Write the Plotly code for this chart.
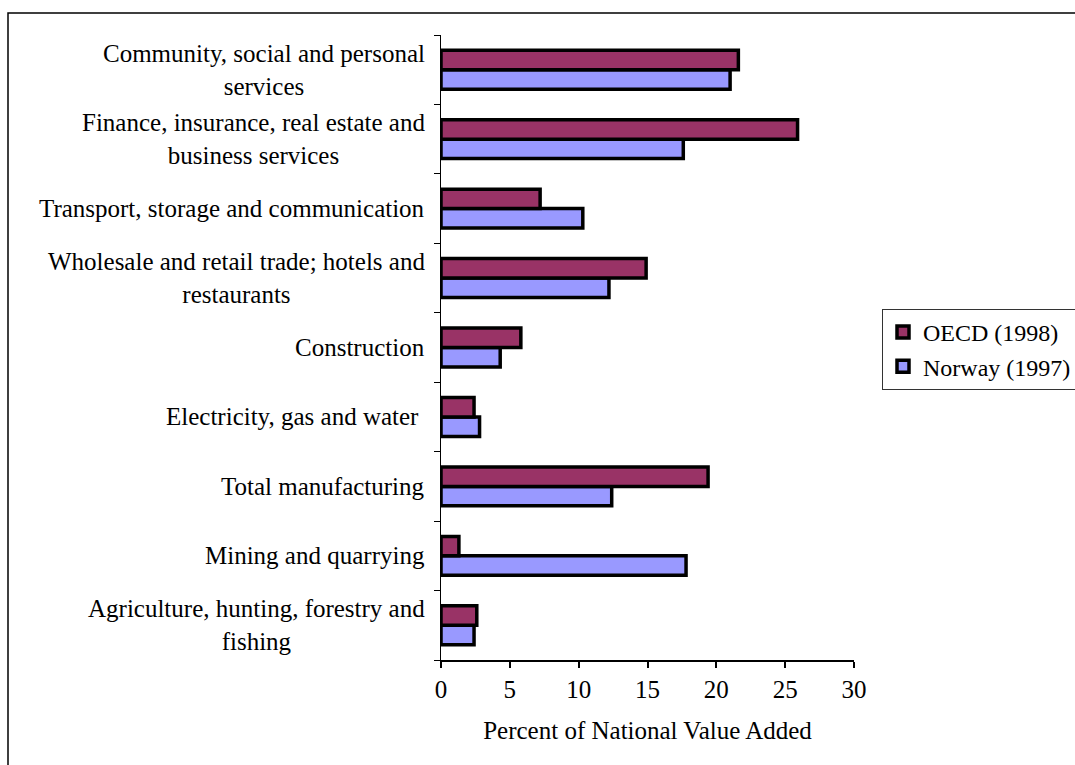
import plotly.graph_objects as go

# Industry groups, listed bottom to top as they appear on the axis
categories = [
    "Agriculture, hunting, forestry and<br>fishing",
    "Mining and quarrying",
    "Total manufacturing",
    "Electricity, gas and water\u00a0",
    "Construction",
    "Wholesale and retail trade; hotels and<br>restaurants",
    "Transport, storage and communication",
    "Finance, insurance, real estate and<br>business services",
    "Community, social and personal<br>services",
]
cat_keys = [f"c{i}" for i in range(len(categories))]

oecd_1998 = [2.6, 1.3, 19.4, 2.4, 5.8, 14.9, 7.2, 25.9, 21.6]
norway_1997 = [2.4, 17.8, 12.4, 2.8, 4.3, 12.2, 10.3, 17.6, 21.0]

x_ticks = [0, 5, 10, 15, 20, 25, 30]

FONT = "Liberation Serif, Times New Roman, serif"
FS = 25

# plot-area geometry in pixels
L, R, T, B = 441, 854, 35, 660
W, H = R - L, B - T

fig = go.Figure()
fig.add_trace(go.Bar(
    y=cat_keys, x=norway_1997, orientation="h", name="Norway (1997)",
    marker=dict(color="#9999FF", line=dict(color="black", width=3.5)),
    legendrank=2,
))
fig.add_trace(go.Bar(
    y=cat_keys, x=oecd_1998, orientation="h", name="OECD (1998)",
    marker=dict(color="#993366", line=dict(color="black", width=3.5)),
    legendrank=1,
))

# Category labels: block right-aligned to the axis, lines centred
for key, label in zip(cat_keys, categories):
    fig.add_annotation(
        x=0, xref="paper", y=key, yref="y", text=label, showarrow=False,
        xanchor="right", yanchor="middle", align="center", xshift=-14,
        font=dict(family=FONT, size=FS, color="black"),
    )

# Outer chart frame
fig.add_shape(type="rect", xref="paper", yref="paper",
              x0=(8 - L) / W, x1=(1095 - L) / W,
              y0=(B - 790) / H, y1=(B - 13) / H,
              line=dict(color="black", width=1.5), layer="below")

fig.update_layout(
    width=1075, height=765,
    margin=dict(l=L, r=1075 - R, t=T, b=765 - B, autoexpand=False),
    paper_bgcolor="white", plot_bgcolor="white",
    barmode="group", bargap=0.44, bargroupgap=0,
    font=dict(family=FONT, size=FS, color="black"),
    showlegend=True,
    legend=dict(
        x=(882 - L) / W, xanchor="left",
        y=(B - 309) / H, yanchor="top",
        bordercolor="#333333", borderwidth=1, bgcolor="white",
        font=dict(family=FONT, size=24, color="black"),
    ),
    xaxis=dict(
        range=[0, 30], tickvals=x_ticks, ticktext=[str(t) for t in x_ticks],
        showgrid=False, zeroline=False,
        showline=True, linecolor="black", linewidth=1.5,
        ticks="outside", ticklen=6, tickcolor="black", tickwidth=1.5,
        tickfont=dict(family=FONT, size=FS, color="black"),
        title=dict(text="Percent of National Value Added", standoff=20,
                   font=dict(family=FONT, size=FS, color="black")),
    ),
    yaxis=dict(
        type="category", categoryorder="array", categoryarray=cat_keys,
        showticklabels=False, showgrid=False, zeroline=False,
        showline=True, linecolor="black", linewidth=1.2,
        ticks="outside", ticklen=6, tickcolor="black", tickwidth=1.2,
        tickson="boundaries",
    ),
)

fig.write_html("out.html")
